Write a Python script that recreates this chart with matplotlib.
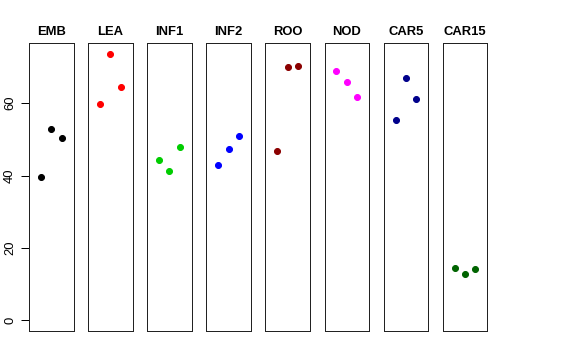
import numpy as np
import matplotlib
matplotlib.use("Agg")
import matplotlib.pyplot as plt

plt.rcParams['font.family'] = ['Liberation Sans', 'DejaVu Sans']

# ------------------------------------------------------------------
# data: three replicates per tissue
# ------------------------------------------------------------------
tissues = ["EMB", "LEA", "INF1", "INF2", "ROO", "NOD", "CAR5", "CAR15"]
colors = ["black", "red", "#00CD00", "blue", "#8B0000", "magenta", "#00008B", "#006400"]
replicate = [1, 2, 3]
emb = [39.6, 52.8, 50.4]
lea = [59.9, 73.7, 64.5]
inf1 = [44.2, 41.3, 47.8]
inf2 = [42.9, 47.4, 51.0]
roo = [46.9, 69.9, 70.3]
nod = [68.8, 66.0, 61.6]
car5 = [55.5, 67.1, 61.2]
car15 = [14.6, 12.9, 14.3]
values = [emb, lea, inf1, inf2, roo, nod, car5, car15]
yticks = [0, 20, 40, 60]

W, H = 576, 360
fig = plt.figure(figsize=(W / 72, H / 72), dpi=72)

ymax = max(max(v) for v in values)
pad = 0.04 * ymax

for i, (name, col, vals) in enumerate(zip(tissues, colors, values)):
    left = 29 + i * 59.1
    ax = fig.add_axes([left / W, 29 / H, 44.5 / W, 288 / H])
    ax.plot(replicate, vals, 'o', color=col, markersize=6, linestyle='none')
    ax.set_xlim(-0.16, 4.16)
    ax.set_ylim(-pad, ymax + pad)
    ax.set_xticks([])
    for s in ax.spines.values():
        s.set_linewidth(1)
        s.set_color("#222222")
    ax.set_title(name, fontsize=13, fontweight='bold', pad=8)
    if i == 0:
        ax.set_yticks(yticks)
        ax.set_yticklabels([str(t) for t in yticks], rotation=90, va='center', fontsize=13)
        ax.tick_params(axis='y', length=8, pad=5, width=1)
    else:
        ax.set_yticks([])

fig.savefig("out.png", dpi=72)
